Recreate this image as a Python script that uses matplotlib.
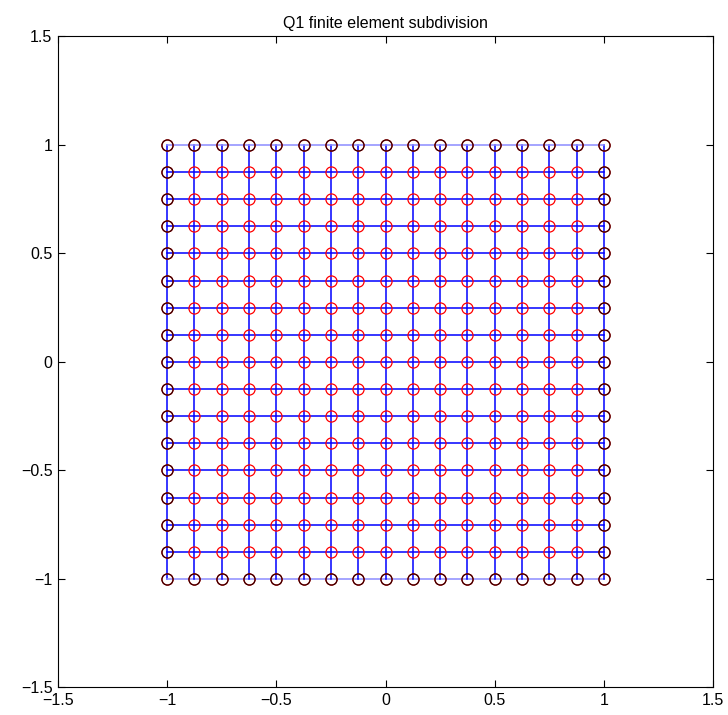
import matplotlib.pyplot as plt
import numpy as np

# Grid node coordinates (same in x and y)
nodes = [-1.0, -0.875, -0.75, -0.625, -0.5, -0.375, -0.25, -0.125, 0.0,
         0.125, 0.25, 0.375, 0.5, 0.625, 0.75, 0.875, 1.0]
ticks = [-1.5, -1, -0.5, 0, 0.5, 1, 1.5]
tick_labels = ['\u22121.5', '\u22121', '\u22120.5', '0', '0.5', '1', '1.5']
title = 'Q1 finite element subdivision'

plt.rcParams['font.family'] = ['Liberation Sans', 'DejaVu Sans']

fig = plt.figure(figsize=(7.28, 7.15), dpi=100)
ax = fig.add_axes([0.0797, 0.0385, 0.8997, 0.9105])

X, Y = np.meshgrid(nodes, nodes)

# element edges
for v in nodes:
    ax.plot([v, v], [nodes[0], nodes[-1]], color='#0000ff', lw=1.1, zorder=1)
    hc = '#8c8cff' if abs(v) == 1 else '#0000ff'
    ax.plot([nodes[0], nodes[-1]], [v, v], color=hc, lw=1.1, zorder=1)

# all nodes (red), boundary nodes (black)
ax.plot(X.ravel(), Y.ravel(), 'o', mfc='none', mec='#ff0000', ms=8, mew=0.9, zorder=2)
bnd = (np.abs(X) == 1) | (np.abs(Y) == 1)
ax.plot(X[bnd], Y[bnd], 'o', mfc='none', mec='#300000', ms=8, mew=0.9, zorder=3)

ax.set_xlim(-1.5, 1.5)
ax.set_ylim(-1.5, 1.5)
ax.set_xticks(ticks)
ax.set_xticklabels(tick_labels)
ax.set_yticks(ticks)
ax.set_yticklabels(tick_labels)
ax.tick_params(direction='in', top=True, right=True, labelsize=11.5, length=5, pad=4)
for s in ax.spines.values():
    s.set_linewidth(0.8)
ax.set_title(title, fontsize=11.5, pad=6)

plt.savefig('out.png', dpi=100)
